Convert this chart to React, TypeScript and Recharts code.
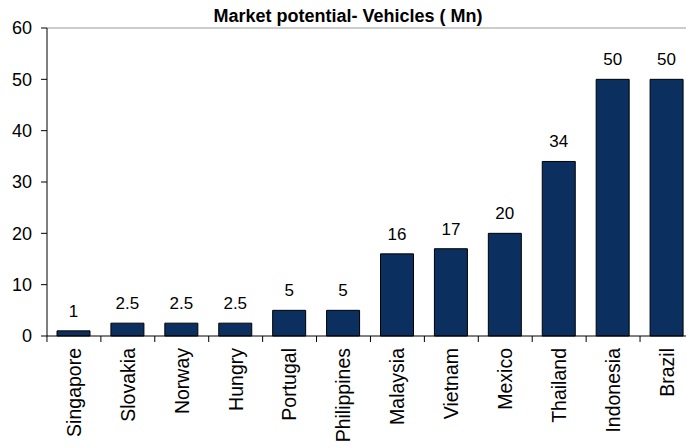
import { BarChart, Bar, XAxis, YAxis, LabelList, ReferenceLine } from "recharts";

const countries = [
  "Singapore", "Slovakia", "Norway", "Hungry", "Portugal", "Philippines",
  "Malaysia", "Vietnam", "Mexico", "Thailand", "Indonesia", "Brazil",
];
const vehicles = [1, 2.5, 2.5, 2.5, 5, 5, 16, 17, 20, 34, 50, 50];
const yTicks = [0, 10, 20, 30, 40, 50, 60];

const data = countries.map((c, i) => ({ country: c, value: vehicles[i] }));

const FONT = "Arial, 'Liberation Sans', sans-serif";
const HALF_BAND = 27;

// category ticks sit between the bars, labels run upward
function CountryTick(props: any) {
  const { x, y, payload } = props;
  return (
    <g>
      <line x1={x - HALF_BAND} x2={x - HALF_BAND} y1={y - 6} y2={y} stroke="#000" />
      <text
        x={x}
        y={y + 6}
        transform={`rotate(-90, ${x}, ${y + 6})`}
        textAnchor="end"
        dy="0.35em"
        fontSize={19.5}
        fontFamily={FONT}
        fill="#000"
      >
        {payload.value}
      </text>
    </g>
  );
}

export default function App() {
  return (
    <div
      style={{
        position: "absolute",
        left: 0,
        top: 0,
        width: 686,
        height: 447,
        overflow: "hidden",
        background: "#fff",
        fontFamily: FONT,
      }}
    >
      <div
        style={{
          position: "absolute",
          left: 10,
          right: 0,
          top: 6,
          textAlign: "center",
          fontWeight: "bold",
          fontSize: 18,
        }}
      >
        Market potential- Vehicles ( Mn)
      </div>
      <BarChart
        width={700}
        height={447}
        data={data}
        margin={{ top: 28, right: 6, left: 0, bottom: 0 }}
        barSize={33}
      >
        <ReferenceLine y={60} stroke="#999" />
        <XAxis
          dataKey="country"
          interval={0}
          height={111}
          tickSize={6}
          tickMargin={0}
          tickLine={false}
          axisLine={{ stroke: "#000" }}
          tick={<CountryTick />}
        />
        <YAxis
          width={47}
          domain={[0, 60]}
          ticks={yTicks}
          tickSize={6}
          tickMargin={9}
          axisLine={{ stroke: "#000" }}
          tickLine={{ stroke: "#000" }}
          tick={{ fill: "#000", fontSize: 18, fontFamily: FONT }}
        />
        <Bar dataKey="value" fill="#0B3060" stroke="#000" strokeWidth={1} isAnimationActive={false}>
          <LabelList
            dataKey="value"
            position="top"
            offset={14}
            fill="#000"
            fontSize={17}
            fontFamily={FONT}
          />
        </Bar>
      </BarChart>
    </div>
  );
}
